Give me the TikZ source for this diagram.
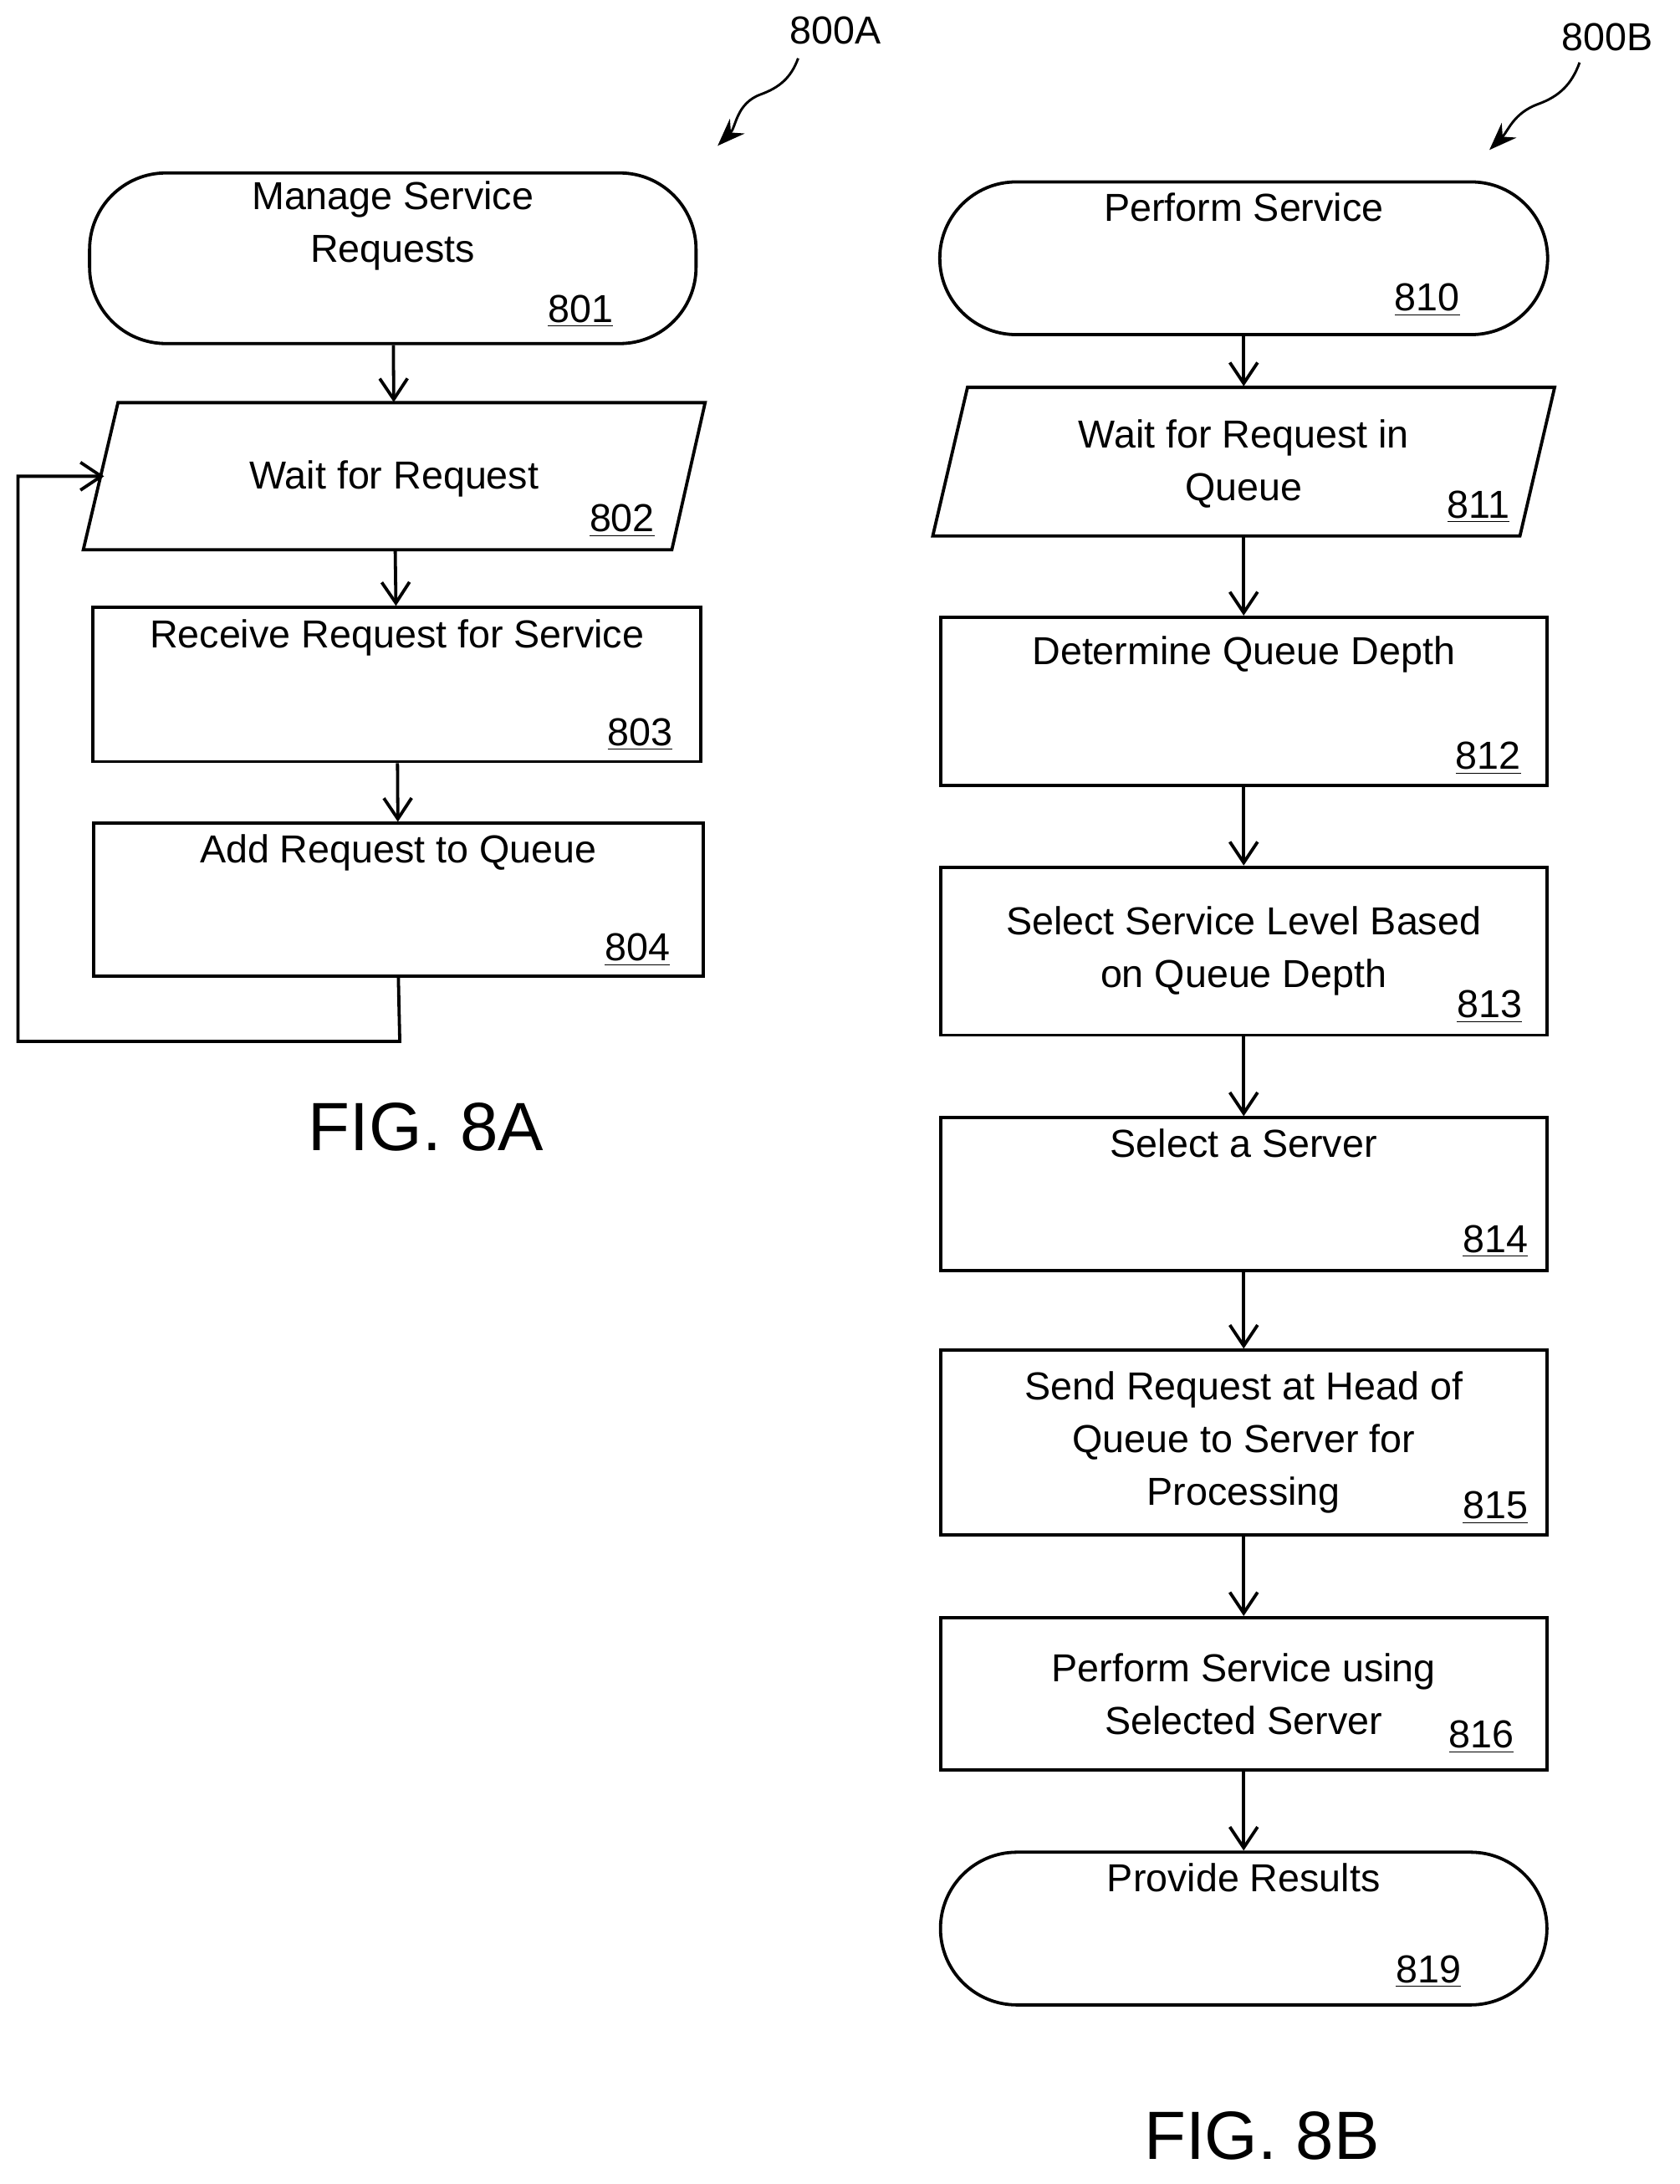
\documentclass[tikz,border=0pt]{standalone}
\usepackage{fontspec}
\setmainfont{Liberation Sans}
\usetikzlibrary{calc,arrows.meta}
\tikzset{
  box/.style={rectangle,draw,line width=1.3pt,align=center,
              font=\fontsize{16}{21.6}\selectfont},
  term/.style={box,rounded corners=1.1cm},
  num/.style={anchor=base east,inner sep=0pt,font=\fontsize{16}{19}\selectfont},
  flow/.style={-{Straight Barb[length=3mm,width=4mm]},line width=1.3pt},
}
\newcommand{\stepnum}[1]{\underline{#1}}
\begin{document}
\begin{tikzpicture}[x=0.02cm,y=-0.02cm]
  \useasboundingbox (0,0) rectangle (1210,1573);
  % left chart
  \node[term,minimum width=8.74cm,minimum height=2.2cm] (s801) at (283,186) {Manage Service\\Requests\\[2pt]\strut};
  \node[num] at (442,232) {\stepnum{801}};
  \node[minimum width=8.5cm,minimum height=2.12cm,inner sep=0pt] (s802) at (284,343) {};
  \draw[line width=1.3pt] (85,290) -- (508,290) -- (484,396) -- (60,396) -- cycle;
  \node[font=\fontsize{16}{19}\selectfont] at (284,345) {Wait for Request};
  \node[num] at (472,383) {\stepnum{802}};
  \node[box,minimum width=8.76cm,minimum height=2.22cm] (s803) at (286,493) {Receive Request for Service\\[20pt]};
  \node[num] at (485,537) {\stepnum{803}};
  \node[box,minimum width=8.78cm,minimum height=2.2cm] (s804) at (287,648) {Add Request to Queue\\[20pt]};
  \node[num] at (483,692) {\stepnum{804}};
  \draw[flow] (s801) -- (s802);
  \draw[flow] (s802) -- (s803);
  \draw[flow] (s803) -- (s804);
  \draw[flow] (s804.south) -- (288,750) -- (13,750) -- (13,343) -- (75,343);
  \node[font=\fontsize{28}{30}\selectfont] (fig8a) at (307,812) {FIG. 8A};
  \node[font=\fontsize{16}{19}\selectfont] (ref8a) at (602,22) {800A};
  \draw[-{Stealth[length=4mm]},line width=1pt] (575,42) to[out=-110,in=20] (548,68) to[out=-160,in=45] (517,105);
  % right chart
  \node[term,minimum width=8.76cm,minimum height=2.2cm] (s810) at (896,186) {Perform Service\\[20pt]};
  \node[num] at (1052,224) {\stepnum{810}};
  \node[minimum width=8.5cm,minimum height=2.14cm,inner sep=0pt] (s811) at (896,332) {};
  \draw[line width=1.3pt] (697,279) -- (1120,279) -- (1095,386) -- (672,386) -- cycle;
  \node[font=\fontsize{16}{21.6}\selectfont,align=center] at (896,334) {Wait for Request in\\Queue};
  \node[num] at (1088,373) {\stepnum{811}};
  \node[box,minimum width=8.74cm,minimum height=2.42cm] (s812) at (896,505) {Determine Queue Depth\\[20pt]};
  \node[num] at (1096,554) {\stepnum{812}};
  \node[box,minimum width=8.74cm,minimum height=2.42cm] (s813) at (896,685) {Select Service Level Based\\on Queue Depth};
  \node[num] at (1097,733) {\stepnum{813}};
  \node[box,minimum width=8.74cm,minimum height=2.2cm] (s814) at (896,860) {Select a Server\\[20pt]};
  \node[num] at (1101,902) {\stepnum{814}};
  \node[box,minimum width=8.74cm,minimum height=2.66cm] (s815) at (896,1039) {Send Request at Head of\\Queue to Server for\\Processing};
  \node[num] at (1101,1094) {\stepnum{815}};
  \node[box,minimum width=8.74cm,minimum height=2.2cm] (s816) at (896,1220) {Perform Service using\\Selected Server};
  \node[num] at (1091,1259) {\stepnum{816}};
  \node[term,minimum width=8.74cm,minimum height=2.2cm] (s819) at (896,1389) {Provide Results\\[20pt]};
  \node[num] at (1053,1428) {\stepnum{819}};
  \draw[flow] (s810) -- (s811);
  \draw[flow] (s811) -- (s812);
  \draw[flow] (s812) -- (s813);
  \draw[flow] (s813) -- (s814);
  \draw[flow] (s814) -- (s815);
  \draw[flow] (s815) -- (s816);
  \draw[flow] (s816) -- (s819);
  \node[font=\fontsize{28}{30}\selectfont] (fig8b) at (909,1538) {FIG. 8B};
  \node[font=\fontsize{16}{19}\selectfont] (ref8b) at (1158,27) {800B};
  \draw[-{Stealth[length=4mm]},line width=1pt] (1138,45) to[out=-110,in=20] (1108,75) to[out=-160,in=45] (1073,108);
\end{tikzpicture}
\end{document}
